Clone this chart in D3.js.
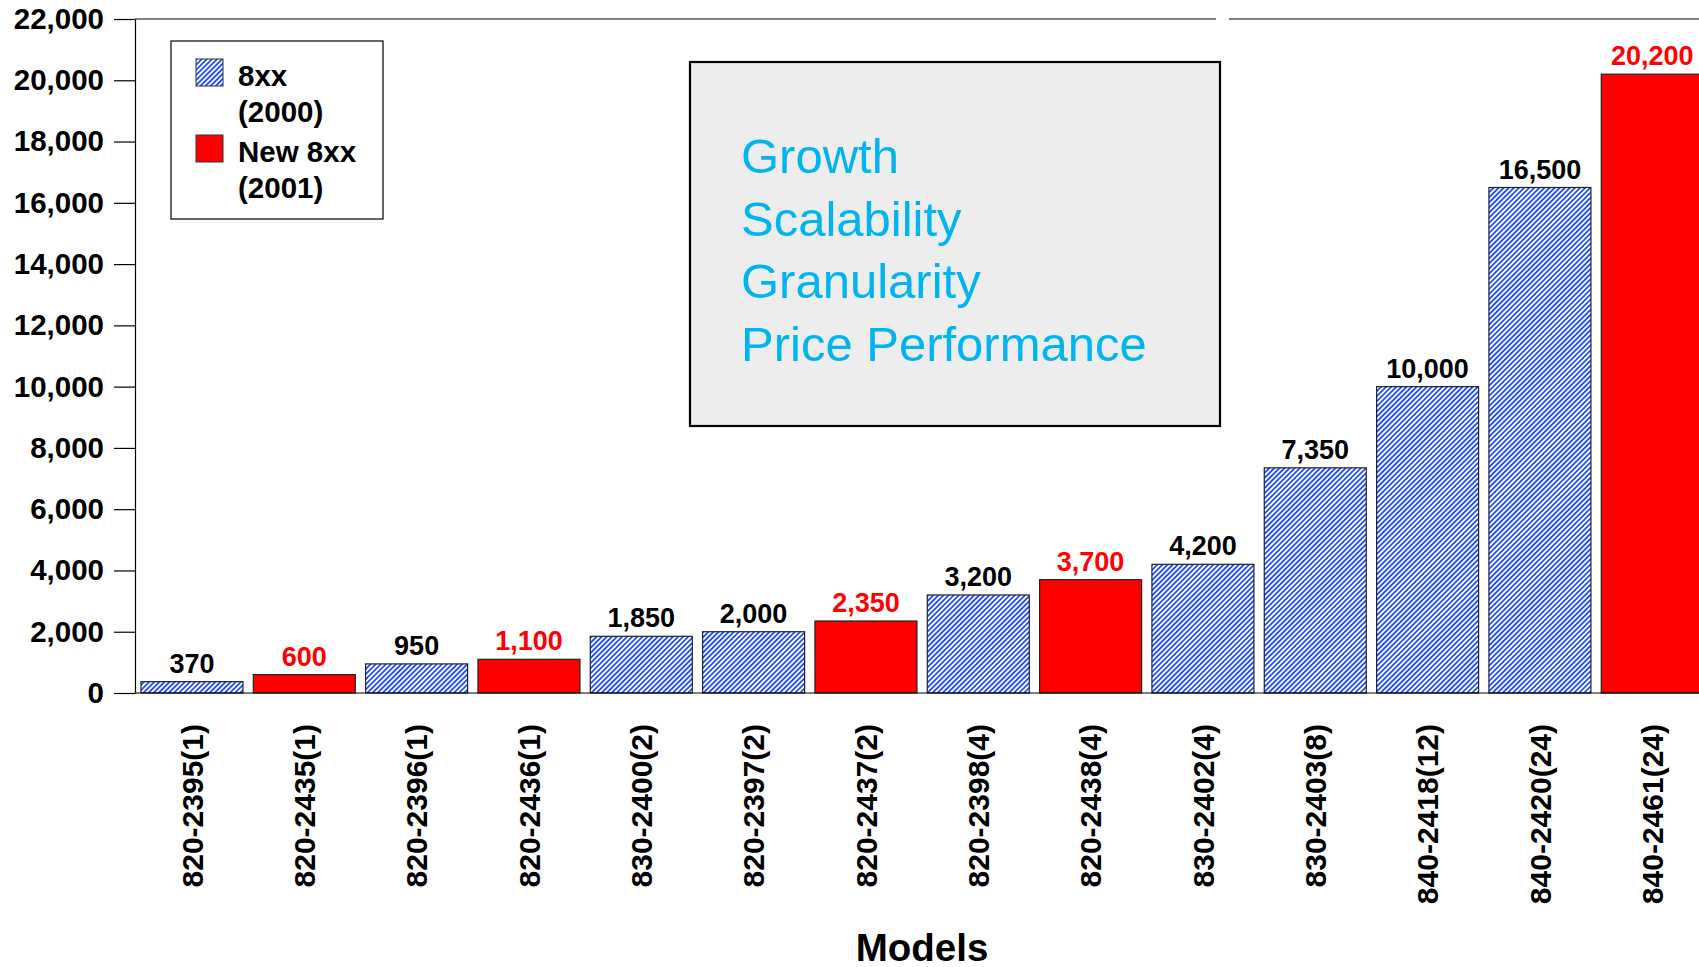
<!DOCTYPE html>
<html>
<head>
<meta charset="utf-8">
<script src="https://cdn.jsdelivr.net/npm/d3@7"></script>
<style>
  html, body { margin: 0; padding: 0; background: #ffffff; }
  svg { display: block; }
  text { font-family: "Liberation Sans", Arial, sans-serif; }
</style>
</head>
<body>
<svg id="chart" width="1699" height="967"></svg>
<script>
// ---- data ----
const categories = ["820-2395(1)","820-2435(1)","820-2396(1)","820-2436(1)","830-2400(2)","820-2397(2)","820-2437(2)","820-2398(4)","820-2438(4)","830-2402(4)","830-2403(8)","840-2418(12)","840-2420(24)","840-2461(24)"];
const values = [370, 600, 950, 1100, 1850, 2000, 2350, 3200, 3700, 4200, 7350, 10000, 16500, 20200];
const seriesOf = ["8xx","New","8xx","New","8xx","8xx","New","8xx","New","8xx","8xx","8xx","8xx","New"];
const yTicks = [0, 2000, 4000, 6000, 8000, 10000, 12000, 14000, 16000, 18000, 20000, 22000];
const legendLabels = [["8xx", "(2000)"], ["New 8xx", "(2001)"]];
const boxLines = ["Growth", "Scalability", "Granularity", "Price Performance"];
const xTitle = "Models";

const W = 1699, H = 967;
const svg = d3.select("#chart");
const defs = svg.append("defs");
const pat = defs.append("pattern")
  .attr("id", "hatch").attr("patternUnits", "userSpaceOnUse")
  .attr("width", 3.6).attr("height", 3.6)
  .attr("patternTransform", "rotate(45)");
pat.append("rect").attr("width", 3.6).attr("height", 3.6).attr("fill", "#ffffff");
pat.append("rect").attr("width", 1.8).attr("height", 3.6).attr("fill", "#1f4dff");

const x0 = 135, yBase = 693, yTop = 19;
const x = d3.scaleBand().domain(categories).range([135.8, 135.8 + 14 * 112.33])
  .paddingInner(0.092).paddingOuter(0.046);
const y = d3.scaleLinear().domain([0, 22000]).range([yBase, yTop]);

const fillFor = s => s === "New" ? "#ff0000" : "url(#hatch)";
const colorFor = s => s === "New" ? "#ff0000" : "#000000";

// y axis
const yAxis = d3.axisLeft(y).tickValues(yTicks).tickFormat(d3.format(","))
  .tickSize(21).tickSizeOuter(0).tickPadding(10);
const gy = svg.append("g").attr("transform", `translate(${x0},0)`).call(yAxis);
gy.select(".domain").attr("stroke", "#000").attr("stroke-width", 1.2);
gy.selectAll(".tick line").attr("stroke", "#000").attr("stroke-width", 1.2);
gy.selectAll(".tick text").attr("font-size", 29.5).attr("font-weight", "bold")
  .attr("fill", "#000").attr("font-family", "'Liberation Sans', Arial, sans-serif");

// top border with small gap
svg.append("line").attr("x1", x0).attr("x2", 1216).attr("y1", y(22000)).attr("y2", y(22000))
  .attr("stroke", "#000").attr("stroke-width", 1.2);
svg.append("line").attr("x1", 1229).attr("x2", W).attr("y1", y(22000)).attr("y2", y(22000))
  .attr("stroke", "#000").attr("stroke-width", 1.2);

// bars
svg.append("g").selectAll("rect").data(categories).join("rect")
  .attr("x", d => x(d))
  .attr("y", (d, i) => y(values[i]))
  .attr("width", x.bandwidth())
  .attr("height", (d, i) => yBase - y(values[i]))
  .attr("fill", (d, i) => fillFor(seriesOf[i]))
  .attr("stroke", "#222").attr("stroke-width", 1.2);

// x axis baseline
svg.append("line").attr("x1", x0).attr("x2", W).attr("y1", yBase).attr("y2", yBase)
  .attr("stroke", "#000").attr("stroke-width", 1.2);

// value labels
svg.append("g").selectAll("text").data(categories).join("text")
  .attr("x", d => x(d) + x.bandwidth() / 2)
  .attr("y", (d, i) => y(values[i]) - 9)
  .attr("text-anchor", "middle")
  .attr("font-size", 27).attr("font-weight", "bold")
  .attr("fill", (d, i) => colorFor(seriesOf[i]))
  .text((d, i) => d3.format(",")(values[i]));

// x category labels (rotated)
svg.append("g").selectAll("text").data(categories).join("text")
  .attr("transform", d => `translate(${x(d) + x.bandwidth() / 2},724) rotate(-90)`)
  .attr("text-anchor", "end")
  .attr("dy", "0.36em")
  .attr("font-size", 30).attr("font-weight", "bold").attr("fill", "#000")
  .text(d => d);

// x title
svg.append("text").attr("x", 922).attr("y", 961).attr("text-anchor", "middle")
  .attr("font-size", 38.5).attr("font-weight", "bold").attr("fill", "#000").text(xTitle);

// legend
const lg = svg.append("g");
lg.append("rect").attr("x", 171).attr("y", 41).attr("width", 212).attr("height", 178)
  .attr("fill", "#fff").attr("stroke", "#000").attr("stroke-width", 1.2);
const legendSeries = ["8xx", "New"];
legendSeries.forEach((s, i) => {
  const sy = 59 + i * 76;
  lg.append("rect").attr("x", 196).attr("y", sy).attr("width", 27).attr("height", 27)
    .attr("fill", fillFor(s)).attr("stroke", "#333").attr("stroke-width", 1);
  lg.append("text").attr("x", 238).attr("y", sy + 27).attr("font-size", 29.5).attr("font-weight", "bold")
    .attr("fill", "#000").text(legendLabels[i][0]);
  lg.append("text").attr("x", 238).attr("y", sy + 63).attr("font-size", 29.5).attr("font-weight", "bold")
    .attr("fill", "#000").text(legendLabels[i][1]);
});

// callout box
const bx = svg.append("g");
bx.append("rect").attr("x", 690).attr("y", 62).attr("width", 530).attr("height", 364)
  .attr("fill", "#ededed").attr("stroke", "#000").attr("stroke-width", 2.2);
boxLines.forEach((t, i) => {
  bx.append("text")
    .attr("x", 741).attr("y", 173 + i * 62.7)
    .attr("font-size", 49).attr("fill", "#00b4f0").text(t);
});
</script>
</body>
</html>
